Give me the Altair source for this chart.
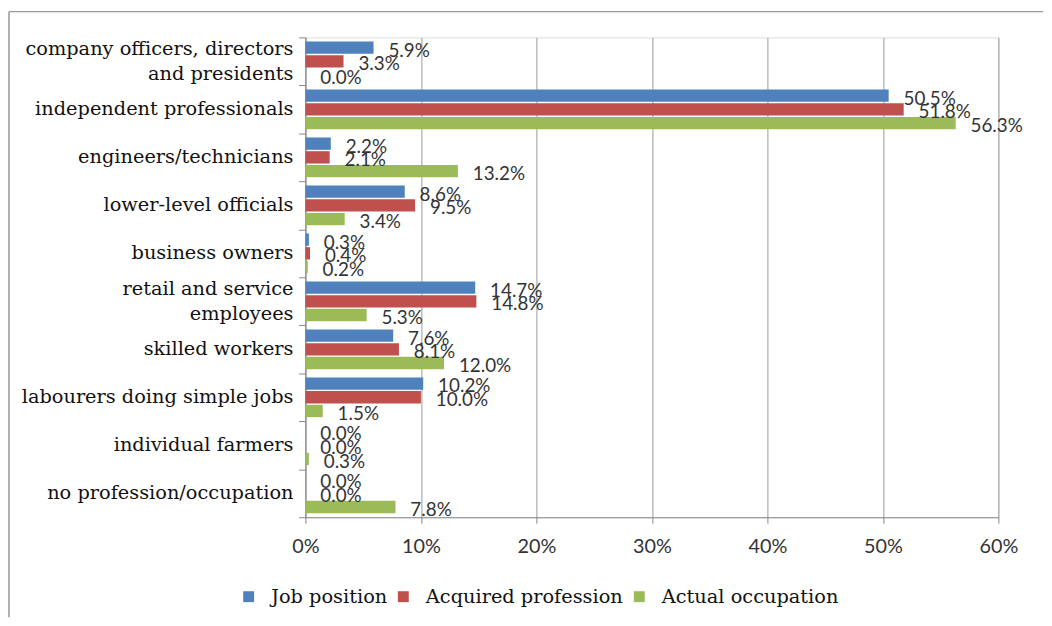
import altair as alt
import pandas as pd

categories = [
    "company officers, directors|and presidents",
    "independent professionals",
    "engineers/technicians",
    "lower-level officials",
    "business owners",
    "retail and service|employees",
    "skilled workers",
    "labourers doing simple jobs",
    "individual farmers",
    "no  profession/occupation",
]
series = ["Job position", "Acquired profession", "Actual  occupation"]
job_position = [5.9, 50.5, 2.2, 8.6, 0.3, 14.7, 7.6, 10.2, 0.0, 0.0]
acquired_profession = [3.3, 51.8, 2.1, 9.5, 0.4, 14.8, 8.1, 10.0, 0.0, 0.0]
actual_occupation = [0.0, 56.3, 13.2, 3.4, 0.2, 5.3, 12.0, 1.5, 0.3, 7.8]
colors = ["#4F81BD", "#C0504D", "#9BBB59"]
x_ticks = [0, 10, 20, 30, 40, 50, 60]

rows = []
for name, vals in zip(series, [job_position, acquired_profession, actual_occupation]):
    for c, v in zip(categories, vals):
        rows.append({"category": c, "series": name, "value": v})
df = pd.DataFrame(rows)
cat_df = pd.DataFrame({"category": categories})

SERIF = "DejaVu Serif"
SANS = "Lato"

y_enc = alt.Y(
    "category:N",
    sort=categories,
    scale=alt.Scale(paddingInner=0, paddingOuter=0),
    axis=alt.Axis(
        title=None,
        labels=False,
        tickBand="extent",
        tickSize=7,
        tickColor="#888888",
        domainColor="#888888",
    ),
)
yoff = alt.YOffset(
    "series:N",
    sort=series,
    scale=alt.Scale(paddingInner=0.1, paddingOuter=0.3),
)
x_enc = alt.X(
    "value:Q",
    scale=alt.Scale(domain=[0, 60], nice=False),
    axis=alt.Axis(
        title=None,
        values=x_ticks,
        labelExpr="datum.value + '%'",
        labelFont=SANS,
        labelFontSize=20,
        labelColor="#333333",
        labelPadding=14,
        labelFlush=False,
        tickSize=6,
        tickColor="#888888",
        domainColor="#888888",
        gridColor="#999999",
        grid=True,
    ),
)

base = alt.Chart(df)

bars = base.mark_bar().encode(
    y=y_enc,
    yOffset=yoff,
    x=x_enc,
    color=alt.Color(
        "series:N",
        sort=series,
        scale=alt.Scale(domain=series, range=colors),
        legend=alt.Legend(
            title=None,
            orient="none",
            direction="horizontal",
            legendX=-67,
            legendY=554,
            symbolType="square",
            symbolSize=121,
            symbolStrokeWidth=0,
            labelFont=SERIF,
            labelFontSize=19.5,
            labelColor="#111111",
            labelOffset=13,
            columnPadding=6,
            labelLimit=400,
        ),
    ),
)

labels = base.transform_calculate(
    lbl="format(datum.value, '.1f') + '%'"
).mark_text(
    align="left", baseline="middle", dx=15, dy=3, font=SANS, fontSize=19, color="#333333"
).encode(
    y=alt.Y("category:N", sort=categories),
    yOffset=alt.YOffset("series:N", sort=series),
    x=alt.X("value:Q"),
    text="lbl:N",
)

cat_base = alt.Chart(cat_df).transform_calculate(
    lines="split(datum.category, '|')",
    multi="indexof(datum.category, '|') >= 0",
)
cat_single = cat_base.transform_filter("!datum.multi").mark_text(
    align="right", baseline="middle", dx=-12, font=SERIF, fontSize=19.5, color="#111111"
).encode(
    y=alt.Y("category:N", sort=categories),
    x=alt.datum(0),
    text="category:N",
)
cat_multi = cat_base.transform_filter("datum.multi").mark_text(
    align="right", baseline="middle", dx=-12, dy=-12, lineHeight=25,
    font=SERIF, fontSize=19.5, color="#111111"
).encode(
    y=alt.Y("category:N", sort=categories),
    x=alt.datum(0),
    text="lines:N",
)

frame_data = alt.Data(values=[{"a": 1}])
top_rule = alt.Chart(frame_data).mark_rule(color="#999999", strokeWidth=1.5).encode(
    x=alt.value(-299), x2=alt.value(744), y=alt.value(-26)
)
left_rule = alt.Chart(frame_data).mark_rule(color="#999999", strokeWidth=1.5).encode(
    x=alt.value(-299), y=alt.value(-26), y2=alt.value(585)
)

chart = alt.layer(bars, labels, cat_single, cat_multi, top_rule, left_rule).properties(
    width=699, height=484, padding=0
).configure_view(stroke=None).configure(background="white")

chart.save("out.html", embed_options={"renderer": "svg", "actions": False})
